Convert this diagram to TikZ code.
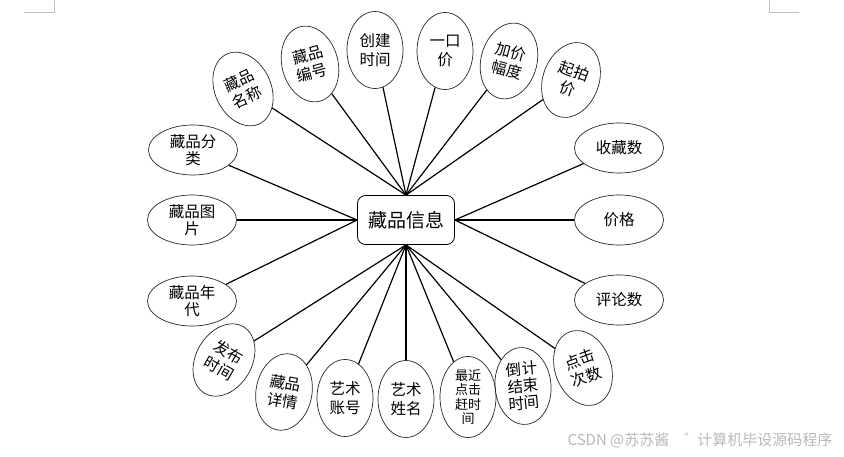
\documentclass[tikz,border=0pt]{standalone}
\usepackage{fontspec}
\setmainfont{Noto Sans CJK SC}
\usetikzlibrary{shapes.geometric}
\tikzset{
  attr/.style={draw=black!85,line width=0.7pt,ellipse,inner sep=0pt,align=center,
    minimum width=56pt,minimum height=77pt,font=\fontsize{15.5}{18.5}\selectfont},
  wide/.style={attr,minimum width=89pt,minimum height=50pt,font=\fontsize{15.5}{17}\selectfont},
  link/.style={line width=1.2pt}
}
\begin{document}
\begin{tikzpicture}[x=1pt,y=-1pt]
  \useasboundingbox (0,0) rectangle (844,457);
  % page corner marks
  \draw[black!25,line width=0.6pt] (24,12) -- (54,12) -- (54,0);
  \draw[black!25,line width=0.6pt] (769,0) -- (769,12) -- (799,12);

  % Entity
  \node[draw,line width=0.8pt,rounded corners=8pt,minimum width=97pt,minimum height=49pt,
    font=\fontsize{19}{21}\selectfont] (info) at (406,220) {藏品信息};

  % Top fan
  \node[attr,rotate=25] (mc) at (243,89) {藏品\\名称};
  \node[attr,rotate=15] (bh) at (310,64) {藏品\\编号};
  \node[attr] (cj) at (375,50) {创建\\时间};
  \node[attr] (yk) at (445,51) {一口\\价};
  \node[attr,rotate=-15] (jj) at (509,61) {加价\\幅度};
  \node[attr,rotate=-20] (qp) at (571,80) {起拍\\价};

  % Left side
  \node[wide] (fl) at (193,150) {藏品分\\类};
  \node[wide] (tp) at (192,220) {藏品图\\片};
  \node[wide] (nd) at (192,301) {藏品年\\代};

  % Right side
  \node[wide] (sc) at (619,148) {收藏数};
  \node[wide] (jg) at (619,220) {价格};
  \node[wide] (pl) at (619,300) {评论数};

  % Bottom fan
  \node[attr,rotate=-30] (fb) at (224,360) {发布\\时间};
  \node[attr,rotate=-10] (xq) at (284,392) {藏品\\详情};
  \node[attr] (zh) at (345,398) {艺术\\账号};
  \node[attr] (xm) at (406,399) {艺术\\姓名};
  \node[attr,minimum height=81pt,font=\fontsize{13}{14.5}\selectfont] (zj) at (468,397) {最近\\点击\\赶时\\间};
  \node[attr,rotate=5,font=\fontsize{15.5}{17}\selectfont] (dj) at (523,386) {倒计\\结束\\时间};
  \node[attr,rotate=20] (dc) at (583,368) {点击\\次数};

  % Links to the top
  \draw[link] (info.north) -- (mc);
  \draw[link] (info.north) -- (bh);
  \draw[link] (info.north) -- (cj);
  \draw[link] (info.north) -- (yk);
  \draw[link] (info.north) -- (jj);
  \draw[link] (info.north) -- (qp);

  % Links to the sides
  \draw[link] (info.west) -- (fl);
  \draw[link] (info.west) -- (tp);
  \draw[link] (info.west) -- (nd);
  \draw[link] (info.east) -- (sc);
  \draw[link] (info.east) -- (jg);
  \draw[link] (info.east) -- (pl);

  % Links to the bottom
  \draw[link] (info.south) -- (fb);
  \draw[link] (info.south) -- (xq);
  \draw[link] (info.south) -- (zh);
  \draw[link] (info.south) -- (xm);
  \draw[link] (info.south) -- (zj);
  \draw[link] (info.south) -- (dj);
  \draw[link] (info.south) -- (dc);

  % Watermark
  \node[text=black!28,font=\fontsize{15}{17}\selectfont] (mark) at (700,440) {CSDN @苏苏酱\quad ゛\hspace{-2pt}计算机毕设源码程序};
\end{tikzpicture}
\end{document}
